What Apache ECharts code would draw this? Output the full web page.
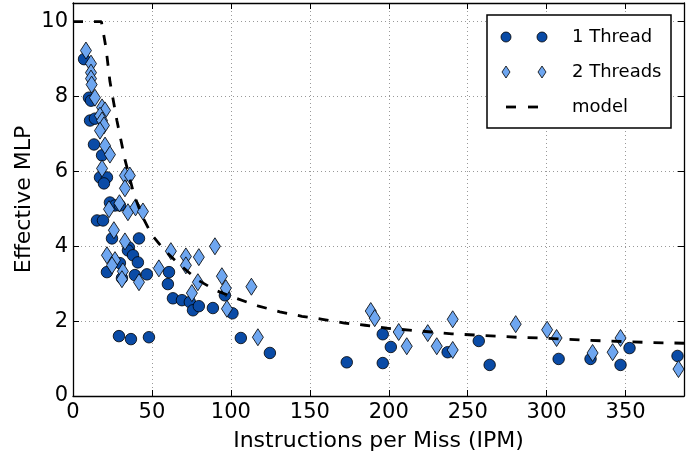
<!DOCTYPE html>
<html><head><meta charset="utf-8">
<script src="https://cdn.jsdelivr.net/npm/echarts@6/dist/echarts.min.js"></script>
<style>html,body{margin:0;padding:0;background:#fff}#c{width:699px;height:459px}</style>
</head><body><div id="c"></div>
<script>
// Data
const oneThread = [[7,9.0],[10.1,7.97],[11.4,7.89],[10.8,7.36],[13.9,7.41],[13.3,6.72],[18.4,6.43],[17.1,5.84],[21.5,5.84],[19.6,5.68],[23.4,5.17],[26.6,5.09],[29.7,5.09],[15.2,4.69],[19,4.69],[24.7,4.21],[41.8,4.21],[35.4,3.97],[34.8,3.89],[38,3.76],[41.1,3.57],[29.7,3.55],[21.5,3.31],[31,3.15],[39.2,3.23],[46.8,3.25],[60.8,3.31],[60.1,2.99],[63.3,2.61],[69,2.56],[74,2.51],[76,2.29],[79.7,2.4],[88.6,2.35],[96.2,2.69],[101,2.21],[29.1,1.6],[36.7,1.52],[48.1,1.57],[106.3,1.55],[124.7,1.15],[173.4,0.9],[196.2,1.65],[201.3,1.31],[196.2,0.88],[237.3,1.17],[257,1.47],[263.9,0.83],[307.6,0.99],[327.8,0.99],[346.8,0.83],[352.5,1.28],[382.9,1.07]];
const twoThreads = [[8.2,9.23],[11.4,8.88],[11.4,8.64],[11.4,8.48],[11.8,8.32],[13.9,7.97],[18.4,7.71],[20.3,7.63],[17.1,7.49],[18.4,7.36],[19.6,7.23],[17.1,7.09],[20.3,6.69],[23.4,6.45],[18.4,6.08],[32.9,5.89],[36,5.89],[32.9,5.55],[29.4,5.15],[22.8,4.99],[34.8,4.91],[39.6,5.04],[44.3,4.93],[25.9,4.43],[32.9,4.13],[21.5,3.76],[26.6,3.63],[24.7,3.49],[31.6,3.33],[31,3.12],[41.8,3.04],[54.4,3.41],[62,3.87],[71.5,3.73],[71.5,3.49],[79.7,3.71],[89.9,4.0],[79.1,3.04],[75.3,2.75],[94.3,3.2],[96.8,2.88],[97.5,2.33],[113,2.92],[117.1,1.57],[188.6,2.27],[191.1,2.08],[206.3,1.71],[211.4,1.33],[224.7,1.68],[230.4,1.33],[240.5,2.05],[240.5,1.23],[280.4,1.92],[300.3,1.77],[306.3,1.55],[329.1,1.15],[341.8,1.17],[346.8,1.55],[383.5,0.72]];
const modelIPM = [0,18,20.9,23.4,27.8,33,38.5,43.5,50,58,67,79,90.5,104,117,131,145,158,172,185,199,213,227,240,254,268,281,295,310,324,338,351,365,387];
const modelMLP = [10,10,9.3,8.4,7.36,6.3,5.4,4.83,4.3,3.89,3.53,3.1,2.82,2.6,2.41,2.25,2.13,2.05,1.95,1.89,1.81,1.76,1.71,1.66,1.63,1.6,1.57,1.55,1.52,1.49,1.47,1.45,1.43,1.41];
const seriesNames = ['1 Thread','2 Threads','model'];
const xTitle = 'Instructions per Miss (IPM)';
const yTitle = 'Effective MLP';
const xMin = 0, xMax = 387, xStep = 50;
const yMin = 0, yMax = 10.5, yStep = 2;

const DARK = '#0a4ba6', LIGHT = '#6ea6f0';
const FONT = 'DejaVu Sans';
const chart = echarts.init(document.getElementById('c'), null, {renderer:'canvas'});
const gridLine = {show:true, lineStyle:{color:'#999', type:[1,3], width:1}};
const axisLineS = {show:true, onZero:false, lineStyle:{color:'#000', width:1.3}};
const tickS = {show:true, inside:true, length:6, lineStyle:{color:'#000', width:1}};
const legendGraphics = [
  {type:'rect', shape:{x:487,y:15,width:184,height:113}, style:{fill:'#fff',stroke:'#000',lineWidth:1.5}, z:100},
  {type:'circle', shape:{cx:506,cy:37,r:5}, style:{fill:DARK,stroke:'#000',lineWidth:0.8}, z:101},
  {type:'circle', shape:{cx:542,cy:37,r:5}, style:{fill:DARK,stroke:'#000',lineWidth:0.8}, z:101},
  {type:'polygon', shape:{points:[[506,66],[510,72],[506,78],[502,72]]}, style:{fill:LIGHT,stroke:'#000',lineWidth:0.8}, z:101},
  {type:'polygon', shape:{points:[[542,66],[546,72],[542,78],[538,72]]}, style:{fill:LIGHT,stroke:'#000',lineWidth:0.8}, z:101},
  {type:'line', shape:{x1:506,y1:107,x2:516,y2:107}, style:{stroke:'#000',lineWidth:2.8}, z:101},
  {type:'line', shape:{x1:528,y1:107,x2:538,y2:107}, style:{stroke:'#000',lineWidth:2.8}, z:101},
  {type:'text', x:572, y:37, style:{text:seriesNames[0], font:'18px "DejaVu Sans"', fill:'#000', verticalAlign:'middle'}, z:101},
  {type:'text', x:572, y:72, style:{text:seriesNames[1], font:'18px "DejaVu Sans"', fill:'#000', verticalAlign:'middle'}, z:101},
  {type:'text', x:572, y:107, style:{text:seriesNames[2], font:'18px "DejaVu Sans"', fill:'#000', verticalAlign:'middle'}, z:101}
];
chart.setOption({
  animation:false,
  backgroundColor:'#fff',
  textStyle:{fontFamily:FONT},
  grid:{left:73, right:15, top:3, bottom:63, containLabel:false},
  xAxis:[
    {type:'value', min:xMin, max:xMax, interval:xStep, position:'bottom',
     name:xTitle, nameLocation:'middle', nameGap:34, nameTextStyle:{fontSize:22, color:'#000', fontFamily:FONT},
     axisLine:axisLineS, axisTick:tickS, splitLine:gridLine,
     axisLabel:{fontSize:21, color:'#000', margin:6, fontFamily:FONT, formatter:v=> (v % xStep === 0 ? String(v) : '')}},
    {type:'value', min:xMin, max:xMax, interval:xStep, position:'top',
     axisLine:axisLineS, axisTick:tickS, splitLine:{show:false}, axisLabel:{show:false}}
  ],
  yAxis:[
    {type:'value', min:yMin, max:yMax, interval:yStep, position:'left',
     name:yTitle, nameLocation:'middle', nameGap:38, nameMoveOverlap:false, nameTextStyle:{fontSize:22, color:'#000', fontFamily:FONT},
     axisLine:axisLineS, axisTick:tickS, splitLine:gridLine,
     axisLabel:{fontSize:21, color:'#000', margin:5, fontFamily:FONT, formatter:v=> (v % yStep === 0 ? String(v) : '')}},
    {type:'value', min:yMin, max:yMax, interval:yStep, position:'right',
     axisLine:axisLineS, axisTick:tickS, splitLine:{show:false}, axisLabel:{show:false}}
  ],
  series:[
    {name:seriesNames[0], type:'scatter', data:oneThread, symbol:'circle', symbolSize:11.5,
     itemStyle:{color:DARK, borderColor:'#000', borderWidth:0.8, opacity:1}, z:2},
    {name:seriesNames[1], type:'scatter', data:twoThreads, symbol:'diamond', symbolSize:[11,17],
     itemStyle:{color:LIGHT, borderColor:'#000', borderWidth:0.8, opacity:1}, z:3},
    {name:seriesNames[2], type:'line', data:modelIPM.map((x,i)=>[x,modelMLP[i]]), showSymbol:false, symbol:'none',
     lineStyle:{color:'#000', width:2.8, type:[10,11]}, z:4}
  ],
  graphic:legendGraphics
});
</script></body></html>
